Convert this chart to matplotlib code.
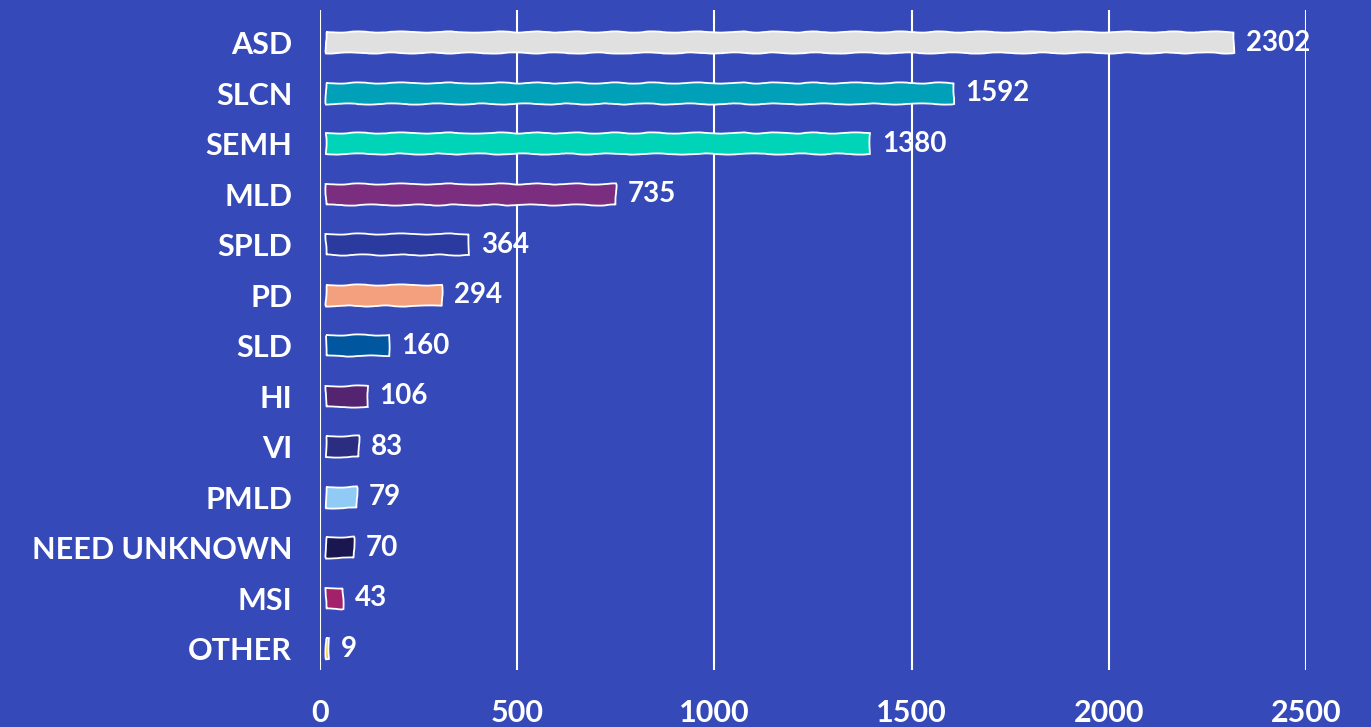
import matplotlib
matplotlib.use('Agg')
import matplotlib.pyplot as plt

categories = ['ASD', 'SLCN', 'SEMH', 'MLD', 'SPLD', 'PD', 'SLD', 'HI', 'VI',
              'PMLD', 'NEED UNKNOWN', 'MSI', 'OTHER']
counts = [2302, 1592, 1380, 735, 364, 294, 160, 106, 83, 79, 70, 43, 9]
bar_colors = ['#E0E0E0', '#00A0B8', '#00D4B8', '#7B2D80', '#2A3A9E',
              '#F4A07E', '#0057A0', '#552470', '#2B2E80', '#8FCBF5',
              '#1A1650', '#A3206A', '#F5C518']
x_ticks = [0, 500, 1000, 1500, 2000, 2500]

BG = '#3549B9'
plt.rcParams['font.family'] = ['Lato', 'DejaVu Sans']


def main():
    fig = plt.figure(figsize=(13.71, 7.27), dpi=100, facecolor=BG)
    ax = fig.add_axes([0.2334, 0.0784, 0.7192, 0.9078])
    ax.set_facecolor(BG)

    ypos = list(range(len(categories)))
    bars = ax.barh(ypos, counts, left=15, height=0.42, color=bar_colors,
                   edgecolor='white', linewidth=1.3, zorder=3)
    for b in bars:
        b.set_sketch_params(scale=0.6, length=60, randomness=4)

    # value labels just past the end of each bar
    for y, v in zip(ypos, counts):
        ax.text(v + 45, y, str(v), color='white', fontsize=20,
                fontweight='bold', va='center', ha='left', zorder=4)

    ax.set_xlim(0, 2500)
    ax.set_ylim(12.42, -0.65)
    ax.set_xticks(x_ticks)
    ax.set_xticklabels([str(t) for t in x_ticks])
    ax.set_yticks(ypos)
    ax.set_yticklabels(categories)
    ax.tick_params(axis='both', length=0, colors='white', labelsize=22)
    ax.tick_params(axis='x', pad=21)
    ax.tick_params(axis='y', pad=20)
    for lab in ax.get_xticklabels() + ax.get_yticklabels():
        lab.set_fontweight('bold')

    ax.grid(axis='x', color='white', linewidth=1.5, zorder=0)
    ax.set_axisbelow(True)
    for s in ax.spines.values():
        s.set_visible(False)

    fig.savefig('out.png', dpi=100, facecolor=BG)


if __name__ == '__main__':
    main()
